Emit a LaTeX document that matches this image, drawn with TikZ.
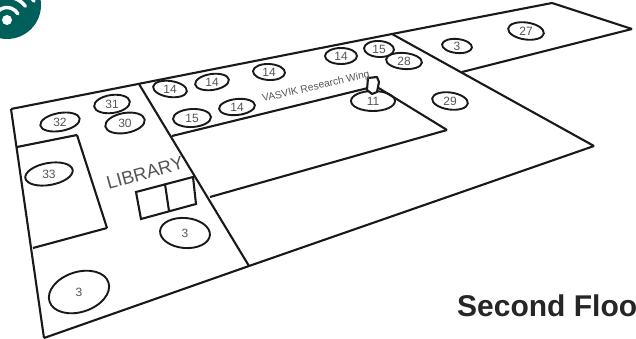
\documentclass[tikz,border=0pt]{standalone}
\usepackage{fontspec}
\setmainfont{Liberation Sans}
\usetikzlibrary{shapes.geometric}
\definecolor{badge}{HTML}{005F5B}
\definecolor{inkgray}{HTML}{555555}
\newcommand{\wall}[2]{\draw[wallline] (#1) -- (#2)}
\newcommand{\spot}[6]{\node[spotmark, minimum width=#3pt, minimum height=#4pt, rotate=#5] (#1) at (#2) {\rotatebox{\the\numexpr0-(#5)\relax}{#6}}}

\begin{document}
\begin{tikzpicture}[x=1pt, y=-1pt,
                    wallline/.style={line width=2.1pt, line join=miter, black!90},
                    spotmark/.style={
                        draw=black!90,
                        line width=1.9pt,
                        ellipse,
                        inner sep=0pt,
                        text=inkgray,
                        font=\fontsize{12}{12}\selectfont
                    },
                    signtext/.style={text=inkgray, inner sep=0pt},
                    waves/.style={white, line width=3.5pt, line cap=round}]
    \useasboundingbox (0,0) rectangle (636,339);

    % badge
    \coordinate (dot) at (7,20);
    \fill[badge] (7,5) circle (34);
    \fill[white] (dot) circle (5);
    \draw[waves] ([shift={(-130:12.5)}]dot) arc (-130:-30:12.5);
    \draw[waves] ([shift={(-90:23)}]dot) arc (-90:-37:23);
    \draw[waves] ([shift={(-50:33)}]dot) arc (-50:-35:33);

    % corners
    \coordinate (nw) at (11,109);
    \coordinate (mid) at (139,84);
    \coordinate (top) at (392,34);
    \coordinate (east) at (552,3);
    \coordinate (far) at (632,29);
    \coordinate (notch) at (462,72);
    \coordinate (se) at (594,146);
    \coordinate (foot) at (249,266);
    \coordinate (sw) at (44,338);

    \coordinate (wingA) at (172,136);
    \coordinate (wingB) at (368,88);
    \coordinate (wingC) at (377,87);
    \coordinate (wingD) at (447,130);
    \coordinate (wingE) at (210,197);

    \coordinate (roomA) at (17,147);
    \coordinate (roomB) at (77,135);
    \coordinate (roomC) at (107,228);
    \coordinate (roomD) at (33,248);

    % this one sits under the walls
    \spot{a11}{373,101}{44}{20}{0}{11};

    \wall{nw}{top};
    \wall{top}{east};
    \wall{east}{far};
    \wall{far}{notch};
    \wall{top}{se};
    \wall{se}{foot};
    \wall{foot}{sw};
    \wall{sw}{nw};
    \wall{mid}{foot};
    \wall{wingA}{wingB};
    \wall{wingC}{wingD};
    \wall{wingD}{wingE};
    \wall{roomA}{roomB};
    \wall{roomB}{roomC};
    \wall{roomC}{roomD};

    % library desk
    \draw[wallline] (136,192) coordinate (deskA) -- (193,177) coordinate (deskB)
        -- (196,204) coordinate (deskC) -- (141,219) coordinate (deskD) -- cycle;
    \draw[wallline] (165,184) coordinate (deskE) -- (169,211) coordinate (deskF);

    % marker
    \draw[wallline, fill=white, line join=round] (368,78) -- (377,77) -- (379,82)
        -- (377,92) -- (372,94) -- (367,90) -- cycle;

    \spot{a14}{170,89}{34}{16}{-8}{14};
    \spot{b14}{212,82}{34}{16}{8}{14};
    \spot{c14}{269,72}{32}{16}{-3}{14};
    \spot{d14}{237,107}{36}{16}{6}{14};
    \spot{e14}{341,56}{32}{16}{0}{14};
    \spot{a15}{192,118}{38}{18}{3}{15};
    \spot{b15}{379,49}{30}{16}{-3}{15};
    \spot{a28}{404,61}{36}{16}{-5}{28};
    \spot{a3}{457,46}{30}{14}{-6}{3};
    \spot{a27}{526,31}{36}{17}{-8}{27};
    \spot{a29}{450,101}{36}{17}{-8}{29};
    \spot{a31}{112,104}{36}{18}{8}{31};
    \spot{a32}{60,122}{40}{18}{10}{32};
    \spot{a30}{125,123}{40}{20}{10}{30};
    \spot{a33}{49,174}{48}{22}{10}{33};
    \spot{b3}{185,233}{50}{30}{-5}{3};
    \spot{c3}{79,292}{62}{40}{18}{3};

    \node[signtext, font=\fontsize{10.3}{10.3}\selectfont, rotate=13] (wing) at (316,87) {VASVIK Research Wing};
    \node[signtext, font=\fontsize{18.5}{18.5}\selectfont, rotate=15.5] (library) at (145,173) {LIBRARY};
    \node[anchor=base west, inner sep=0pt, text=black!85, font=\fontsize{30}{30}\selectfont\bfseries] (floor) at (457,316) {Second Floor};
\end{tikzpicture}
\end{document}
